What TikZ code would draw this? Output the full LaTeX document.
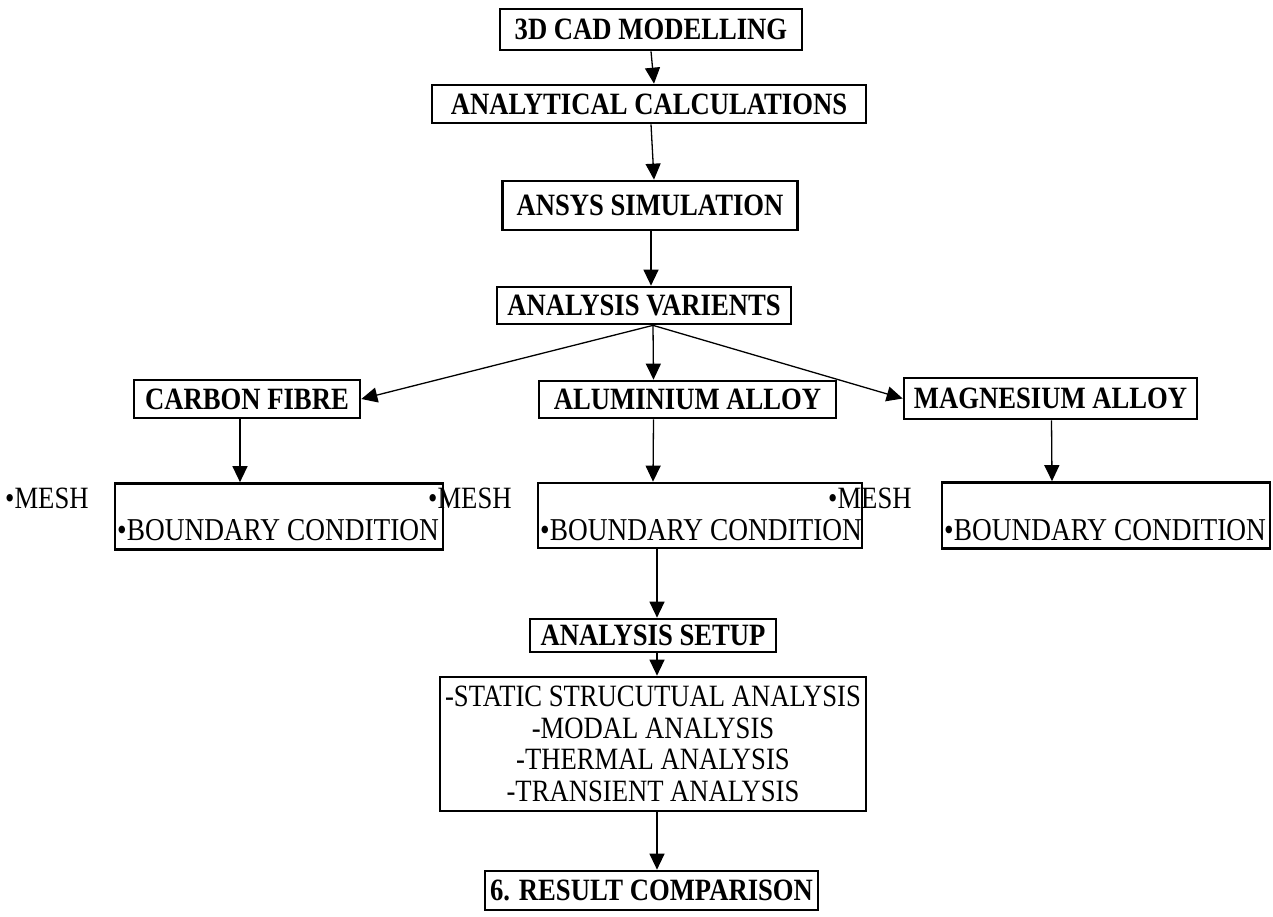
\documentclass[tikz,border=0pt]{standalone}
\usepackage{fontspec}
\setmainfont{Liberation Serif}[FakeStretch=0.86]
\usetikzlibrary{arrows.meta,calc}
\begin{document}
\begin{tikzpicture}[x=1pt,y={(0pt,-1pt)},
  font=\fontsize{31}{31.5}\selectfont,
  tbox/.style={draw,line width=2.7pt,inner sep=0pt,font=\fontsize{31}{31.5}\selectfont\bfseries},
  bcbox/.style={draw,line width=2.7pt,inner sep=0pt,minimum width=328pt,minimum height=66pt},
  plain/.style={inner sep=0pt},
  bct/.style={inner sep=0pt,font=\fontsize{31.8}{32}\selectfont},
  arr/.style={line width=1.3pt,-{Triangle[length=16pt,width=15pt]}}]
\useasboundingbox (0,0) rectangle (1273,916);
\node[tbox,minimum width=302pt,minimum height=41pt] (cad) at (651,29.5) {3D CAD MODELLING};
\node[tbox,minimum width=434pt,minimum height=38pt] (anal) at (649,104) {ANALYTICAL CALCULATIONS};
\node[tbox,minimum width=295pt,minimum height=49pt] (ansys) at (650,205.5) {ANSYS SIMULATION};
\node[tbox,minimum width=294pt,minimum height=37pt] (var) at (644,305.5) {ANALYSIS VARIENTS};
\node[tbox,minimum width=226pt,minimum height=38pt] (cf) at (247,399) {CARBON FIBRE};
\node[tbox,minimum width=297pt,minimum height=37pt] (al) at (687.5,399.5) {ALUMINIUM ALLOY};
\node[tbox,minimum width=293pt,minimum height=41pt] (mg) at (1050.5,398.5) {MAGNESIUM ALLOY};
\node[bcbox] (bc1) at (279,516.5) {};
\node[bcbox,minimum width=324pt,minimum height=65pt] (bc2) at (700,515.5) {};
\node[bcbox] (bc3) at (1106,515.5) {};
\node[bct,anchor=base west] (bt1) at (117,540) {•BOUNDARY CONDITION};
\node[bct,anchor=base west] (bt2) at (540,540) {•BOUNDARY CONDITION};
\node[bct,anchor=base west] (bt3) at (944,540) {•BOUNDARY CONDITION};
\node[plain,anchor=base west] (m1) at (5,508) {•MESH};
\node[plain,anchor=base west] (m2) at (428,508) {•MESH};
\node[plain,anchor=base west] (m3) at (828,508) {•MESH};
\node[tbox,minimum width=246pt,minimum height=33pt] (setup) at (653,635.5) {ANALYSIS SETUP};
\node[draw,line width=2.7pt,inner sep=0pt,minimum width=426pt,minimum height=134pt,align=center] (list) at (653,744)
 {-STATIC STRUCUTUAL ANALYSIS\\-MODAL ANALYSIS\\-THERMAL ANALYSIS\\-TRANSIENT ANALYSIS};
\node[tbox,minimum width=333pt,minimum height=39pt] (res) at (651.5,890.5) {6. RESULT COMPARISON};
\draw[arr] ($(cad.south)+(0,0)$) -- ($(anal.north)+(5,0)$);
\draw[arr] ($(anal.south)+(2,0)$) -- ($(ansys.north)+(4,0)$);
\draw[arr] ($(ansys.south)+(1,0)$) -- ($(var.north)+(7,0)$);
\coordinate (vs) at ($(var.south)+(9,0)$);
\draw[arr] (vs) -- (cf.east);
\draw[arr] (vs) -- ($(al.north)+(-34,0)$);
\draw[arr] (vs) -- (mg.west);
\draw[arr] ($(cf.south)+(-7,0)$) -- ($(bc1.north)+(-39,0)$);
\draw[arr] ($(al.south)+(-34,0)$) -- ($(bc2.north)+(-47,0)$);
\draw[arr] ($(mg.south)+(1,0)$) -- ($(bc3.north)+(-54,0)$);
\draw[arr] ($(bc2.south)+(-43,0)$) -- ($(setup.north)+(4,0)$);
\draw[arr] ($(setup.south)+(4,0)$) -- ($(list.north)+(4,0)$);
\draw[arr] ($(list.south)+(4,0)$) -- ($(res.north)+(5.5,0)$);
\end{tikzpicture}
\end{document}
